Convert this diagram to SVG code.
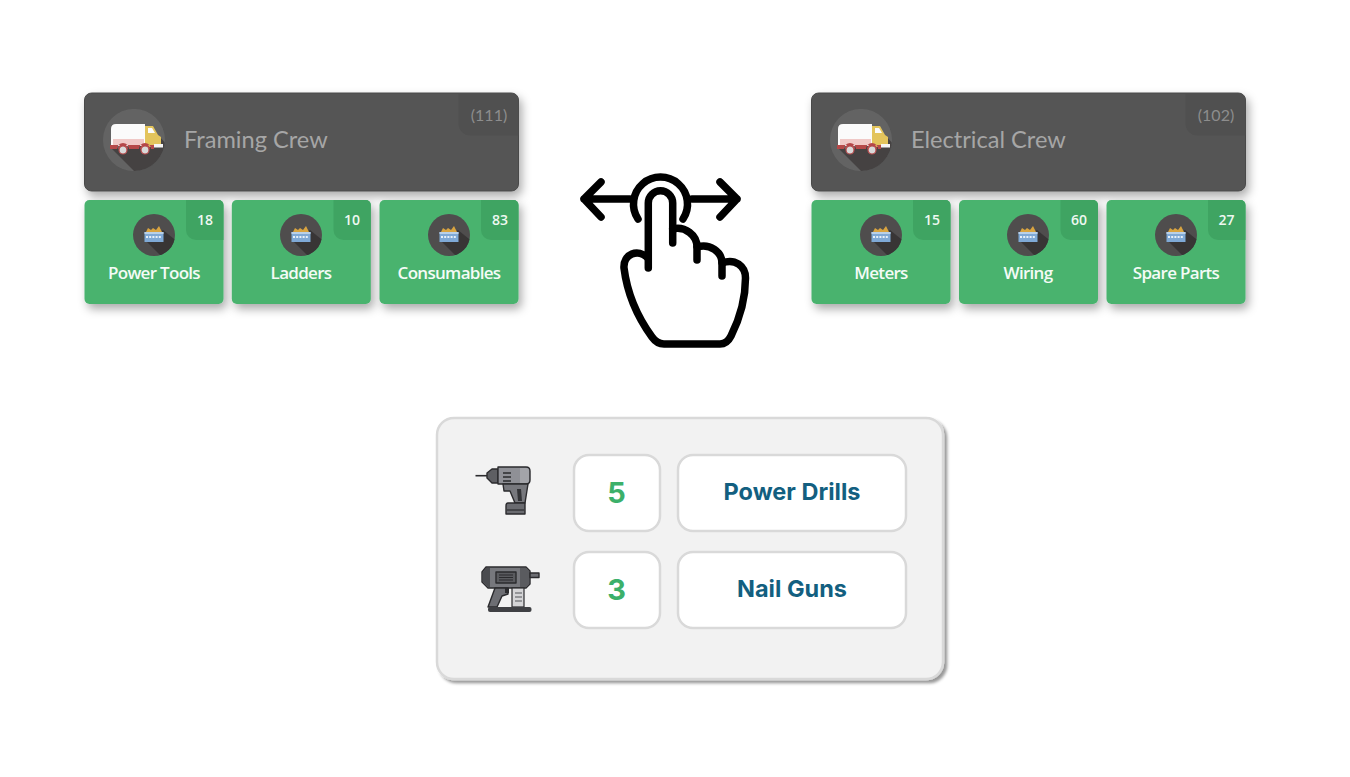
<svg xmlns="http://www.w3.org/2000/svg" xmlns:xlink="http://www.w3.org/1999/xlink" width="1350" height="777" viewBox="0 0 1350 777">
<style>
.hdr{fill:#555;stroke:#4a4a4a;stroke-width:1}
.tile{fill:#49b36e}
.badge{fill:#3fa462}
.hn{font:23.6px "Lato","Open Sans",sans-serif;fill:#a6a6a6}
.hc{font:16px "Lato","Open Sans",sans-serif;fill:#8d8d8d;text-anchor:middle}
.tn{font:600 17px "Open Sans","Noto Sans",sans-serif;fill:#f4fbf6;text-anchor:middle;letter-spacing:-.7px}
.tc{font:600 14px "Open Sans","Noto Sans",sans-serif;fill:#eef8f1;text-anchor:middle}
.box{fill:#fff;stroke:#d9d9d9;stroke-width:2.5}
.num{font:700 29px "Inter","Liberation Sans",sans-serif;fill:#3cb06a;text-anchor:middle}
.lab{font:700 23.5px "Inter","Liberation Sans",sans-serif;fill:#135f80;text-anchor:middle}
.hand{fill:none;stroke:#000;stroke-width:7.500;stroke-linecap:round;stroke-linejoin:round}
.tl{stroke:#2b2b2e;stroke-width:1.4;stroke-linejoin:round}
</style>
<defs>
<filter id="s1" x="-10%" y="-15%" width="125%" height="145%"><feDropShadow dx="3" dy="5" stdDeviation="5" flood-color="#000" flood-opacity=".33"/></filter>
<filter id="s2" x="-5%" y="-5%" width="110%" height="110%"><feDropShadow dx="3" dy="3" stdDeviation="1.6" flood-color="#000" flood-opacity=".4"/></filter>
<filter id="soft"><feGaussianBlur stdDeviation=".45"/></filter>
<clipPath id="cc"><circle cx="0" cy="0" r="31"/></clipPath>
<clipPath id="cs"><circle cx="0" cy="0" r="21"/></clipPath>
<g id="truck" filter="url(#soft)">
<circle r="31" fill="#646464"/>
<path d="M-22 9L16 47L48 22L26 -3L14 5Z" fill="#454343" clip-path="url(#cc)"/>
<path d="M-18 -16H11V6H-23V-11Q-23 -16 -18 -16Z" fill="#fbfbfb"/>
<path d="M-21 -1H10V5H-21Z" fill="#f0c9c7"/>
<path d="M11 -14H19L24 -5L27 -3V7H11Z" fill="#e3c45c"/>
<path d="M14 -12H18L21 -7H14Z" fill="#fbfbfb"/>
<rect x="20" y="4" width="9" height="3.500" fill="#f5f5f5"/>
<path d="M-24 5H20V9H17A6 6 0 0 0 5 9H-5A6 6 0 0 0 -17 9H-24Z" fill="#b5484a"/>
<path d="M-16 9A5 5 0 0 1 -6 9ZM6 9A5 5 0 0 1 16 9Z" fill="#b5484a"/>
<circle cx="-11" cy="10" r="4" fill="#d9d9d9" stroke="#b5484a" stroke-width="1.2"/>
<circle cx="11" cy="10" r="4" fill="#d9d9d9" stroke="#b5484a" stroke-width="1.2"/>
</g>
<g id="crate" filter="url(#soft)">
<circle r="21" fill="#4f4d4e"/>
<path d="M-9 5L12 26L30 12L9 -5Z" fill="#373536" clip-path="url(#cs)"/>
<path d="M-8 -3L-6 -7L-3 -5L-1 -7L2 -5L5 -9L8 -3Z" fill="#d9a441"/>
<rect x="-9.500" y="-3" width="19" height="10" fill="#7fa9d6"/>
<rect x="-9.500" y="-3" width="19" height="2" fill="#b9d0e8"/>
<path d="M-8 2H8" stroke="#e6f0fa" stroke-width="2" stroke-dasharray="2 1.2"/>
</g>
</defs>

<g id="framing-crew">
<rect class="hdr" x="84.500" y="93" width="434" height="98" rx="7" filter="url(#s1)"/>
<use href="#truck" x="134" y="140"/>
<path d="M458.500 93.500H511.500A7 7 0 0 1 518.500 100.500V135.500H470.500A12 12 0 0 1 458.500 123.500Z" fill="#505050"/>
<text class="hn" x="184" y="148">Framing Crew</text>
<text class="hc" x="489" y="121">(111)</text>
</g>
<g id="power-tools">
<rect class="tile" x="84.500" y="200" width="139" height="104" rx="5" filter="url(#s1)"/>
<path d="M186 200H218.500A5 5 0 0 1 223.500 205V240H196A10 10 0 0 1 186 230Z" class="badge"/>
<use href="#crate" x="154" y="235"/>
<text class="tn" x="154" y="279">Power Tools</text>
<text class="tc" x="205" y="225">18</text>
</g>
<g id="ladders">
<rect class="tile" x="231.800" y="200" width="139" height="104" rx="5" filter="url(#s1)"/>
<path d="M333.500 200H365.800A5 5 0 0 1 370.800 205V240H343.500A10 10 0 0 1 333.500 230Z" class="badge"/>
<use href="#crate" x="301" y="235"/>
<text class="tn" x="301" y="279">Ladders</text>
<text class="tc" x="352" y="225">10</text>
</g>
<g id="consumables">
<rect class="tile" x="379.500" y="200" width="139" height="104" rx="5" filter="url(#s1)"/>
<path d="M481 200H513.500A5 5 0 0 1 518.500 205V240H491A10 10 0 0 1 481 230Z" class="badge"/>
<use href="#crate" x="449" y="235"/>
<text class="tn" x="449" y="279">Consumables</text>
<text class="tc" x="500" y="225">83</text>
</g>

<g id="electrical-crew">
<rect class="hdr" x="811.500" y="93" width="434" height="98" rx="7" filter="url(#s1)"/>
<use href="#truck" x="861" y="140"/>
<path d="M1185.500 93.500H1238.500A7 7 0 0 1 1245.500 100.500V135.500H1197.500A12 12 0 0 1 1185.500 123.500Z" fill="#505050"/>
<text class="hn" x="911" y="148">Electrical Crew</text>
<text class="hc" x="1216" y="121">(102)</text>
</g>
<g id="meters">
<rect class="tile" x="811.500" y="200" width="139" height="104" rx="5" filter="url(#s1)"/>
<path d="M913 200H945.500A5 5 0 0 1 950.500 205V240H923A10 10 0 0 1 913 230Z" class="badge"/>
<use href="#crate" x="881" y="235"/>
<text class="tn" x="881" y="279">Meters</text>
<text class="tc" x="932" y="225">15</text>
</g>
<g id="wiring">
<rect class="tile" x="959" y="200" width="139" height="104" rx="5" filter="url(#s1)"/>
<path d="M1060.500 200H1093A5 5 0 0 1 1098 205V240H1070.500A10 10 0 0 1 1060.500 230Z" class="badge"/>
<use href="#crate" x="1028" y="235"/>
<text class="tn" x="1028" y="279">Wiring</text>
<text class="tc" x="1079" y="225">60</text>
</g>
<g id="spare-parts">
<rect class="tile" x="1106.500" y="200" width="139" height="104" rx="5" filter="url(#s1)"/>
<path d="M1208 200H1240.500A5 5 0 0 1 1245.500 205V240H1218A10 10 0 0 1 1208 230Z" class="badge"/>
<use href="#crate" x="1176" y="235"/>
<text class="tn" x="1176" y="279">Spare Parts</text>
<text class="tc" x="1226.500" y="225">27</text>
</g>

<g id="swipe-hand" class="hand">
<path d="M584 199H630M692 199H737M601 182L584 199L601 217M720 182L737 199L720 217"/>
<path d="M638 219A27 27 0 1 1 683 219"/>
<path d="M648.300 268V203A12.200 12.200 0 0 1 672.700 203V243"/>
<path d="M672.700 229C685 226 697 235 697 247V260"/>
<path d="M697 247C710 243 722 252 722 263V276"/>
<path d="M722 263C735 258 745.500 266 745.500 278C745.500 300 738 322 731 336Q727 344 720 344H664Q657 344 652 337C636 315 627 292 624 268C623 254 638 248 648 258"/>
</g>

<g id="drill-panel">
<rect x="437" y="418" width="506" height="261" rx="17" fill="#f2f2f2" stroke="#d9d9d9" stroke-width="2.5" filter="url(#s2)"/>
<g id="drill-icon">
<path d="M475.500 475.700H487" stroke="#2b2b2e" stroke-width="1.6"/>
<path class="tl" d="M487 473L492 469H498V483H492L487 478Z" fill="#5e5f63"/>
<path class="tl" d="M498 467H526Q530 467 530 471V480Q530 484 526 484H498Z" fill="#8f9096"/>
<path d="M520 468H526Q529 468 529 471V480Q529 483 526 483H520Z" fill="#a3a4a9"/>
<path d="M503 473H511M503 477H511M503 481H511" stroke="#2b2b2e" stroke-width="1.4"/>
<path class="tl" d="M503 484H528L525 503H515L510 491H504Z" fill="#77787d"/>
<path d="M517 489H521L522 501H518Z" fill="#333437"/>
<path class="tl" d="M508 503H525V514H506V506Q506 503 508 503Z" fill="#6a6b70"/>
<path d="M507 510H524" stroke="#2b2b2e" stroke-width="1.2"/>
</g>
<g id="nailgun-icon">
<path class="tl" d="M486 567H526L530 571V584L526 588H488L482 582V572Z" fill="#77787d"/>
<path d="M483 572L486 568H490V587H488L483 582Z" fill="#4a4b4f"/>
<path d="M520 568H526L529 571V584L526 587H520Z" fill="#5a5b5f"/>
<rect class="tl" x="496" y="572" width="20" height="11" fill="#5a5b5f"/>
<path d="M499 575H513M499 577.500H513M499 580H513" stroke="#2b2b2e" stroke-width="1"/>
<rect class="tl" x="530" y="573" width="9" height="4.500" fill="#6d6e73"/>
<path class="tl" d="M495 588H508V594L502 596L497 607H488Z" fill="#6d6e73"/>
<rect x="505" y="588" width="4" height="5" fill="#2b2b2e"/>
<rect x="512" y="588" width="12" height="19" fill="#d5d5d7" stroke="#2b2b2e" stroke-width="1.2"/>
<path d="M515 593H522M515 597H522M515 601H522" stroke="#55565a" stroke-width="1.2"/>
<rect x="488" y="607" width="43.500" height="5" rx="2" fill="#3f4044"/>
</g>
<rect class="box" x="574" y="455" width="86" height="76" rx="15"/>
<text class="num" x="616.500" y="503">5</text>
<rect class="box" x="678" y="455" width="228" height="76" rx="15"/>
<text class="lab" x="792" y="500">Power Drills</text>
<rect class="box" x="574" y="552" width="86" height="76" rx="15"/>
<text class="num" x="616.500" y="600">3</text>
<rect class="box" x="678" y="552" width="228" height="76" rx="15"/>
<text class="lab" x="792" y="597">Nail Guns</text>
</g>
</svg>
